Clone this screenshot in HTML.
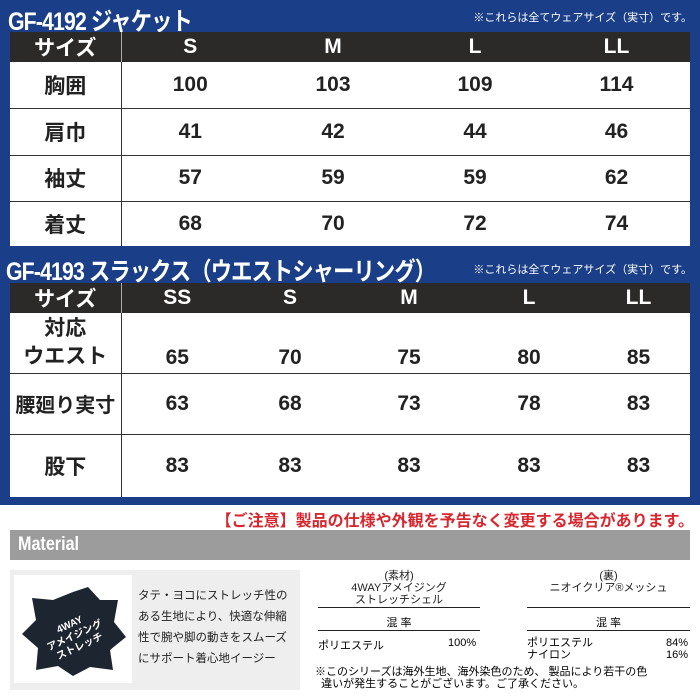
<!DOCTYPE html>
<html><head><meta charset="utf-8"><style>
body{margin:0;width:700px;height:700px;position:relative;background:#fff;font-family:"Liberation Sans","Noto Sans CJK JP",sans-serif;overflow:hidden}
.a{position:absolute}
.blue{left:0;top:0;width:700px;height:505px;background:#1a3e88}
.t{color:#fff;font-weight:bold;font-size:25px;letter-spacing:-1px;transform:scaleX(.85);transform-origin:left}
.note{color:#fff;font-size:11px;right:8px}
table{position:absolute;border-collapse:collapse;background:#fff;font-weight:bold;color:#222;table-layout:fixed}
td{text-align:center;padding:0;border-top:1.5px solid #333;font-size:21px}
tr.h td{background:#2c2a28;color:#fff;border:none}
td.l{border-right:1.5px solid #333}
tr.h td.l{border-right:1.5px solid #aaa}
</style></head><body>
<div class="a blue"></div>
<div class="a t" style="left:8px;top:2px">GF-4192 ジャケット</div>
<div class="a note" style="top:9px">※これらは全てウェアサイズ（実寸）です。</div>
<table style="left:10px;top:32px;width:680px">
<colgroup><col style="width:111px"><col style="width:138px"><col style="width:148px"><col style="width:136px"><col style="width:147px"></colgroup>
<tr class="h" style="height:30px"><td class="l">サイズ</td><td>S</td><td>M</td><td>L</td><td>LL</td></tr>
<tr style="height:46px"><td class="l" style="border-top:none">胸囲</td><td style="border-top:none">100</td><td style="border-top:none">103</td><td style="border-top:none">109</td><td style="border-top:none">114</td></tr>
<tr style="height:47px"><td class="l">肩巾</td><td>41</td><td>42</td><td>44</td><td>46</td></tr>
<tr style="height:46px"><td class="l">袖丈</td><td>57</td><td>59</td><td>59</td><td>62</td></tr>
<tr style="height:45px"><td class="l">着丈</td><td>68</td><td>70</td><td>72</td><td>74</td></tr>
</table>
<div class="a t" style="left:6px;top:252px">GF-4193 スラックス（ウエストシャーリング）</div>
<div class="a note" style="top:261px">※これらは全てウェアサイズ（実寸）です。</div>
<table style="left:10px;top:283px;width:680px">
<colgroup><col style="width:111px"><col style="width:112px"><col style="width:114px"><col style="width:124px"><col style="width:116px"><col style="width:103px"></colgroup>
<tr class="h" style="height:30px"><td class="l">サイズ</td><td>SS</td><td>S</td><td>M</td><td>L</td><td>LL</td></tr>
<tr style="height:60px"><td class="l" style="border-top:none;line-height:28px">対応<br>ウエスト</td><td style="border-top:none;padding-top:30px">65</td><td style="border-top:none;padding-top:30px">70</td><td style="border-top:none;padding-top:30px">75</td><td style="border-top:none;padding-top:30px">80</td><td style="border-top:none;padding-top:30px">85</td></tr>
<tr style="height:61px"><td class="l" style="font-size:20px">腰廻り実寸</td><td>63</td><td>68</td><td>73</td><td>78</td><td>83</td></tr>
<tr style="height:63px"><td class="l">股下</td><td>83</td><td>83</td><td>83</td><td>83</td><td>83</td></tr>
</table>
<div class="a" style="right:6px;top:507px;color:#d8282f;font-size:16px;font-weight:bold">【ご注意】製品の仕様や外観を予告なく変更する場合があります。</div>
<div class="a" style="left:10px;top:530px;width:680px;height:30px;background:#9c9c9c"></div>
<div class="a" style="left:18px;top:534px;color:#fff;font-weight:bold;font-size:19px;transform:scaleX(.85);transform-origin:left">Material</div>
<div class="a" style="left:10px;top:570px;width:290px;height:120px;background:#eeeeee"></div>
<div class="a" style="left:14px;top:575px;width:118px;height:108px;background:#fff"></div>
<svg class="a" style="left:18px;top:582px" width="110" height="96"><polygon points="55,10 70,5 82,18 100,18 96,40 108,55 92,68 95,88 72,85 55,94 40,84 18,88 20,66 4,52 18,38 14,16 35,18" fill="#1d2530"/><text x="55" y="45" fill="#fff" font-size="10" font-weight="bold" text-anchor="middle" transform="rotate(-25 55 50)">4WAY</text><text x="55" y="57" fill="#fff" font-size="10" font-weight="bold" text-anchor="middle" transform="rotate(-25 55 50)">アメイジング</text><text x="55" y="69" fill="#fff" font-size="10" font-weight="bold" text-anchor="middle" transform="rotate(-25 55 50)">ストレッチ</text></svg>
<div class="a" style="left:138px;top:586px;font-size:11.5px;line-height:21px;color:#222;width:160px">タテ・ヨコにストレッチ性のある生地により、快適な伸縮性で腕や脚の動きをスムーズにサポート着心地イージー</div>
<div class="a" style="left:318px;top:570px;width:162px;text-align:center;font-size:11px;line-height:12px;color:#222">(素材)<br>4WAYアメイジング<br>ストレッチシェル</div>
<div class="a" style="left:318px;top:607px;width:162px;border-top:1.5px solid #222"></div>
<div class="a" style="left:318px;top:614px;width:162px;text-align:center;font-size:11px">混 率</div>
<div class="a" style="left:318px;top:630px;width:162px;border-top:1.5px solid #222"></div>
<div class="a" style="left:318px;top:637px;font-size:11px">ポリエステル</div>
<div class="a" style="left:448px;top:637px;font-size:11px">100%</div>
<div class="a" style="left:527px;top:570px;width:163px;text-align:center;font-size:11px;line-height:12px;color:#222">(裏)<br>ニオイクリア®メッシュ</div>
<div class="a" style="left:527px;top:607px;width:163px;border-top:1.5px solid #222"></div>
<div class="a" style="left:527px;top:614px;width:163px;text-align:center;font-size:11px">混 率</div>
<div class="a" style="left:527px;top:630px;width:163px;border-top:1.5px solid #222"></div>
<div class="a" style="left:527px;top:637px;font-size:11px;line-height:12px">ポリエステル<br>ナイロン</div>
<div class="a" style="left:666px;top:637px;font-size:11px;line-height:12px;text-align:right">84%<br>16%</div>
<div class="a" style="left:315px;top:666px;font-size:11px;line-height:12px;width:385px">※このシリーズは海外生地、海外染色のため、 製品により若干の色<br>&nbsp;&nbsp;違いが発生することがございます。ご了承ください。</div>
</body></html>
